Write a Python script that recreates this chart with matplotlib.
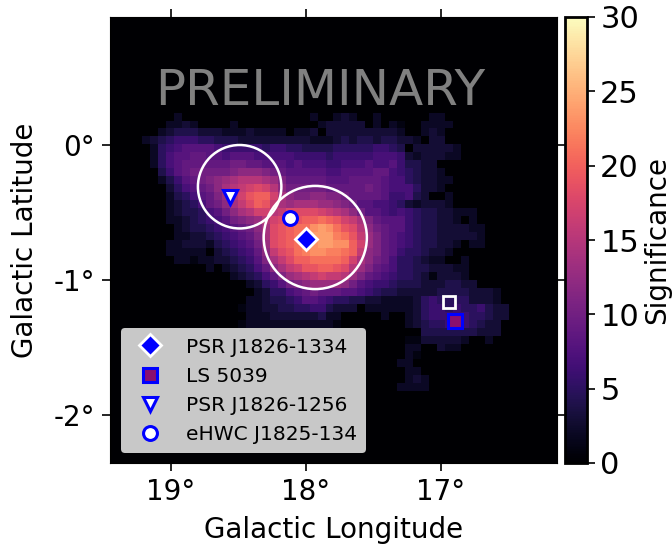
import numpy as np
import matplotlib
matplotlib.use("Agg")
import matplotlib.pyplot as plt
from matplotlib.patches import Circle

# significance map, one char per pixel (base 36), rows start at row 12, cols at col 4
first_row = 12
first_col = 4
n_cells = 56
sig_rows = [
    "000020 0000000000 0000020023 2002000000 220000000000",
    "000223 2000020000 0000002333 3302021002 222000000000",
    "002344 4333222322 2202230333 3333332002 320000000000",
    "234566 6554443333 3333322234 3443443320 330000000000",
    "025678 8887666665 6655444455 5556654033 333200000000",
    "025788 9988788877 7776666566 6667776323 332200000000",
    "025789 99999aa998 8878777667 7787786443 300000000000",
    "004689 aaaaabcccb a988888778 8889976543 320000000000",
    "002468 9abcdefffe db99999888 9999877543 322000000000",
    "000357 89acefghih fcaaaaa999 99a9877753 320000000000",
    "000245 789bdfhjkk hecbbccbba 9999866743 002000000000",
    "000234 579acegikj gedeeeddcb a887765323 332000000000",
    "000234 4578acefhh fgiiiihgfe ca88767654 433222000000",
    "000223 45678abcdf hijjkklkjh geb9888654 433202000000",
    "000023 4456789ace ijkllnonlj ifca988654 433332200000",
    "000022 33456789be ijklmoooml jgdb987654 433333200000",
    "000223 33245678ad ijklmnoonn khdb987654 433202200000",
    "000222 220345679c gijlmnnmml kgcb986554 332000000000",
    "000022 122334568b egikkllllk heca975543 220020000000",
    "000000 0020234579 ceghjjkkji fdb9875544 333220000000",
    "000000 0000023457 9bdefghggf db98765543 133320000000",
    "000000 0000000235 68abcddddc a876654443 334433000000",
    "000000 0000000023 55789a9998 8765443333 344443332000",
    "000000 0000000223 4456887655 4433222235 655553332000",
    "000000 0000001223 3445566433 3022222235 665655643300",
    "000000 0000000222 3333334220 0000200235 666665543300",
    "000000 0000001222 2222222210 0000000234 556565433000",
    "000000 0000000000 0000000000 0000000004 444444333000",
    "000000 0000000000 0000000000 0000000113 333320020000",
    "000000 0000000000 0000000000 0000000220 032200000000",
    "000000 0000000000 0000000000 0000000210 000000000000",
    "000000 0000000000 0000000000 0000002200 000000000000",
    "000000 0000000000 0000000000 0000000220 000000000000",
    "000000 0000000000 0000000000 0000000232 000000000000",
    "000000 0000000000 0000000000 0000002222 000000000000",
]

lon_min, lon_max = 16.14, 19.45
lat_min, lat_max = -2.355, 0.948

x_ticks = [19, 18, 17]
x_labels = ["19°", "18°", "17°"]
y_ticks = [0, -1, -2]
y_labels = ["0°", "-1°", "-2°"]
cbar_ticks = [0, 5, 10, 15, 20, 25, 30]

# emission regions (lon, lat, radius)
circle_lon = [18.49, 17.93]
circle_lat = [-0.309, -0.685]
circle_r = [0.309, 0.382]

psr_1334 = (18.0, -0.696)
ls_5039 = (16.895, -1.30)
psr_1256 = (18.56, -0.385)
ehwc = (18.12, -0.537)
ls_box = (16.94, -1.163)

sig = np.zeros((n_cells, n_cells))
for i, row in enumerate(sig_rows):
    row = row.replace(" ", "")
    for j, ch in enumerate(row):
        sig[first_row + i, first_col + j] = int(ch, 36)

fig = plt.figure(figsize=(6.72, 5.45), dpi=100)
ax = fig.add_axes([110/672, 1 - 463/545, 447/672, 446/545])
cax = fig.add_axes([564.5/672, 1 - 463/545, 22.5/672, 446/545])

im = ax.imshow(sig, cmap="magma", vmin=0, vmax=30, interpolation="nearest",
               extent=[lon_max, lon_min, lat_min, lat_max], aspect="auto")

for k in range(2):
    ax.add_patch(Circle((circle_lon[k], circle_lat[k]), circle_r[k], fill=False,
                        edgecolor="white", linewidth=1.8))

ax.plot(*ls_box, marker="s", ms=8, mfc="none", mec="white", mew=2, ls="none")
ax.plot(*psr_1334, marker="D", ms=11, mfc="blue", mec="white", mew=2, ls="none",
        label="PSR J1826-1334")
ax.plot(*ls_5039, marker="s", ms=10, mfc="#8a0f6e", mec="blue", mew=2.2, ls="none",
        label="LS 5039")
ax.plot(*psr_1256, marker="v", ms=10, mfc="white", mec="blue", mew=2.2, ls="none",
        label="PSR J1826-1256")
ax.plot(*ehwc, marker="o", ms=10, mfc="white", mec="blue", mew=2.2, ls="none",
        label="eHWC J1825-134")

ax.text(0.4695, 0.833, "PRELIMINARY", transform=ax.transAxes, color="#808080",
        fontsize=36, ha="center", va="center")

ax.set_xlim(lon_max, lon_min)
ax.set_ylim(lat_min, lat_max)
ax.set_xticks(x_ticks)
ax.set_xticklabels(x_labels, fontsize=20)
ax.set_yticks(y_ticks)
ax.set_yticklabels(y_labels, fontsize=20)
ax.tick_params(axis="both", top=True, right=True, width=1.2, length=6, pad=5)
ax.set_xlabel("Galactic Longitude", fontsize=20, labelpad=7)
ax.set_ylabel("Galactic Latitude", fontsize=20, labelpad=10)

ax.legend(loc="lower left", bbox_to_anchor=(0.0246, 0.022), borderaxespad=0, fontsize=14.5,
          facecolor="#c8c8c8", framealpha=1, edgecolor="none", labelspacing=0.5,
          borderpad=0.47, handletextpad=0.85, handlelength=1.9, numpoints=1)

cb = fig.colorbar(im, cax=cax)
cb.set_ticks(cbar_ticks)
cb.ax.tick_params(labelsize=22, width=1.2, length=6)
cb.outline.set_linewidth(2)
cb.set_label("Significance", fontsize=20, labelpad=3)

fig.savefig("out.png", dpi=100)
